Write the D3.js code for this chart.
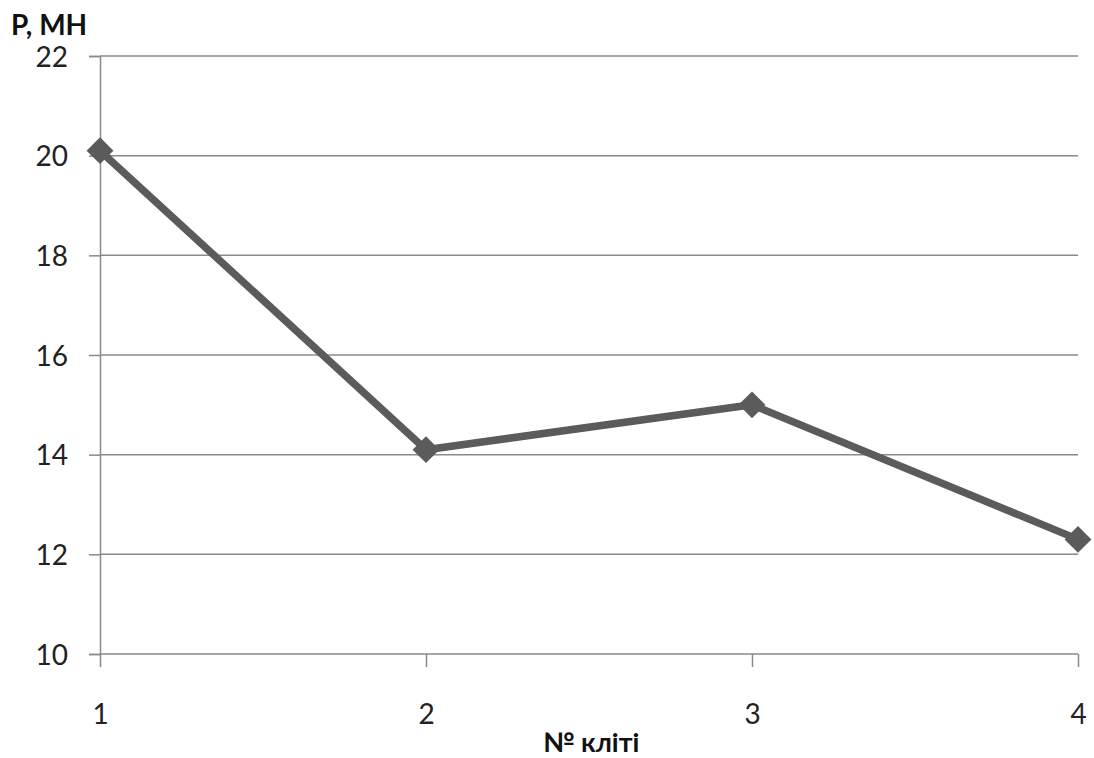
<!DOCTYPE html>
<html>
<head>
<meta charset="utf-8">
<script src="https://cdn.jsdelivr.net/npm/d3@7"></script>
<style>
  body { margin: 0; background: #fff; }
  svg text { font-family: Lato, "Open Sans", sans-serif; }
</style>
</head>
<body>
<svg id="chart" width="1094" height="758"></svg>
<script>
// Rolling force per stand
const stands = ["1", "2", "3", "4"];
const force = [20.1, 14.1, 15.0, 12.3];
const yTicks = [10, 12, 14, 16, 18, 20, 22];

const svg = d3.select("#chart");
const margin = { left: 100, right: 16, top: 56, bottom: 104 };
const W = 1094, H = 758;

const x = d3.scalePoint().domain(stands).range([margin.left, W - margin.right]);
const y = d3.scaleLinear().domain([10, 22]).range([H - margin.bottom, margin.top]);

const gridColor = "#8a8a8a";
const labelSize = 28;

// horizontal gridlines
svg.append("g").selectAll("line")
  .data(yTicks.filter(d => d > 10))
  .join("line")
  .attr("x1", margin.left).attr("x2", W - margin.right)
  .attr("y1", d => y(d)).attr("y2", d => y(d))
  .attr("stroke", gridColor).attr("stroke-width", 1.5);

// y axis
const yAxis = svg.append("g")
  .attr("transform", `translate(${margin.left},0)`)
  .call(d3.axisLeft(y).tickValues(yTicks).tickSize(11).tickPadding(21));
yAxis.select(".domain").attr("stroke", gridColor).attr("stroke-width", 1.5);
yAxis.selectAll(".tick line").attr("stroke", gridColor).attr("stroke-width", 1.5);
yAxis.selectAll(".tick text").attr("font-size", labelSize).attr("fill", "#222").attr("dy", "0.36em");

// x axis
const xAxis = svg.append("g")
  .attr("transform", `translate(0,${y(10)})`)
  .call(d3.axisBottom(x).tickSize(13));
xAxis.select(".domain").attr("stroke", gridColor).attr("stroke-width", 1.5)
  .attr("d", `M${margin.left},0H${W - margin.right}`);
xAxis.selectAll(".tick line").attr("stroke", gridColor).attr("stroke-width", 1.5);
xAxis.selectAll(".tick text").attr("font-size", labelSize).attr("fill", "#222")
  .attr("y", 70).attr("dy", 0);

// data line
const pts = stands.map((s, i) => [x(s), y(force[i])]);
svg.append("path")
  .attr("d", d3.line()(pts))
  .attr("fill", "none")
  .attr("stroke", "#5b5b5b")
  .attr("stroke-width", 7.5)
  .attr("stroke-linejoin", "round");

// diamond markers
svg.append("g").selectAll("path")
  .data(pts)
  .join("path")
  .attr("transform", d => `translate(${d[0]},${d[1]}) rotate(45)`)
  .attr("d", "M-9.5,-9.5H9.5V9.5H-9.5Z")
  .attr("fill", "#5b5b5b");

// axis titles
svg.append("text")
  .attr("x", 11).attr("y", 35)
  .attr("font-size", 28).attr("font-weight", "bold").attr("fill", "#111")
  .text("P, МН");

svg.append("text")
  .attr("x", 591).attr("y", 752)
  .attr("text-anchor", "middle")
  .attr("font-size", 27).attr("font-weight", "bold").attr("fill", "#111")
  .text("№ кліті");
</script>
</body>
</html>
